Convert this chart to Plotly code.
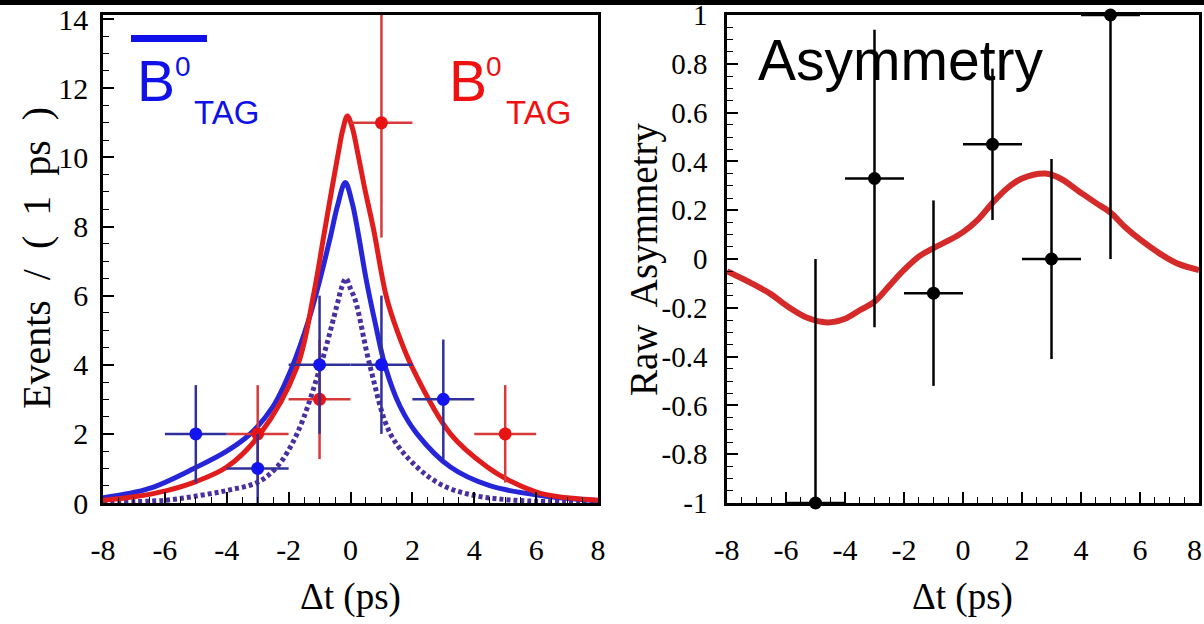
import plotly.graph_objects as go

W, H = 1204, 624

# ---------------- data: left panel (events) ----------------
blue_x = [-5, -3, -1, 1, 3]
blue_y = [2, 1, 4, 4, 3]
blue_yerr = [1.41, 1.0, 2.0, 2.0, 1.73]
blue_xerr = [1, 1, 1, 1, 1]

red_x = [-3, -1, 1, 5]
red_y = [2, 3, 11, 2]
red_yerr = [1.41, 1.73, 3.32, 1.41]
red_xerr = [1, 1, 1, 1]

red_fit_x = [-8, -7, -5.94, -5, -4.0, -2.92, -1.73, -1.2, -0.85, -0.6, -0.4, -0.25, -0.1, 0.06, 0.24, 0.46, 0.75, 1.15, 1.5, 1.99, 3.23, 4.42, 5.2, 6.14, 7, 8]
red_fit_y = [0.08, 0.18, 0.36, 0.62, 1.04, 2.0, 3.93, 6.0, 7.8, 9.1, 10.1, 10.8, 11.2, 10.85, 10.1, 9.1, 7.9, 6.0, 5.0, 3.93, 2.0, 1.04, 0.62, 0.28, 0.15, 0.08]

blue_fit_x = [-8, -6.5, -4.97, -4.0, -3.24, -2.5, -1.89, -1.35, -0.95, -0.65, -0.42, -0.17, 0.05, 0.25, 0.5, 0.8, 1.13, 1.6, 2.15, 3.23, 4.5, 6.14, 8]
blue_fit_y = [0.15, 0.42, 1.04, 1.5, 2.0, 2.8, 3.93, 5.3, 6.6, 7.7, 8.6, 9.27, 8.7, 7.8, 6.5, 5.2, 3.93, 2.8, 2.0, 1.04, 0.5, 0.22, 0.07]

dot_fit_x = [-8, -6, -4.86, -3.9, -3.0, -2.38, -1.73, -0.98, -0.4, -0.3, -0.15, 0.0, 0.16, 0.64, 1.29, 2.15, 3.0, 3.98, 5, 6, 8]
dot_fit_y = [0.02, 0.08, 0.22, 0.38, 0.6, 1.04, 2.0, 3.93, 5.85, 6.2, 6.5, 6.2, 5.85, 3.93, 2.0, 1.04, 0.5, 0.22, 0.1, 0.05, 0.02]

# ---------------- data: right panel (asymmetry) ----------------
asym_x = [-5, -3, -1, 1, 3, 5]
asym_y = [-1, 0.33, -0.14, 0.47, 0, 1]
asym_err_plus = [1.0, 0.61, 0.38, 0.31, 0.41, 0.0]
asym_err_minus = [0.0, 0.61, 0.38, 0.31, 0.41, 1.0]
asym_xerr = [1, 1, 1, 1, 1, 1]

asym_fit_x = [-8, -7, -6.5, -6, -5.3, -4.6, -4, -3.5, -3, -2.5, -2, -1.5, -1, -0.5, 0, 0.5, 1, 1.5, 2, 2.8, 3.3, 3.9, 4.5, 5, 5.5, 6, 6.7, 7.3, 8]
asym_fit_y = [-0.05, -0.11, -0.145, -0.19, -0.24, -0.26, -0.245, -0.21, -0.175, -0.11, -0.045, 0.01, 0.045, 0.075, 0.11, 0.16, 0.23, 0.29, 0.33, 0.35, 0.33, 0.28, 0.23, 0.19, 0.13, 0.08, 0.02, -0.02, -0.045]

x_ticks = [-8, -6, -4, -2, 0, 2, 4, 6, 8]
x_ticktext = ["-8", "-6", "-4", "-2", "0", "2", "4", "6", "8"]
x2_ticktext = ["-8", "-6", "-4", "-2", "0", "2", "4", "6", ""]
ev_ticks = [0, 2, 4, 6, 8, 10, 12, 14]
ev_ticktext = ["0", "2", "4", "6", "8", "10", "12", "14"]
as_ticks = [-1, -0.8, -0.6, -0.4, -0.2, 0, 0.2, 0.4, 0.6, 0.8, 1]
as_ticktext = ["-1", "-0.8", "-0.6", "-0.4", "-0.2", "0", "0.2", "0.4", "0.6", "0.8", "1"]

# ---------------- figure ----------------
fig = go.Figure()

fig.add_trace(go.Scatter(x=dot_fit_x, y=dot_fit_y, mode="lines", line=dict(color="#4a2fa0", width=5, dash="4px,3px", shape="spline"), xaxis="x", yaxis="y"))
fig.add_trace(go.Scatter(x=blue_fit_x, y=blue_fit_y, mode="lines", line=dict(color="#2626d8", width=5, shape="spline"), xaxis="x", yaxis="y"))
fig.add_trace(go.Scatter(x=red_fit_x, y=red_fit_y, mode="lines", line=dict(color="#e01c1c", width=5, shape="spline"), xaxis="x", yaxis="y"))

fig.add_trace(go.Scatter(
    x=red_x, y=red_y, mode="markers", marker=dict(color="#e81414", size=13),
    error_x=dict(type="data", array=red_xerr, color="#d83a3a", thickness=2.5, width=0),
    error_y=dict(type="data", array=red_yerr, color="#d83a3a", thickness=2.5, width=0),
    xaxis="x", yaxis="y"))
fig.add_trace(go.Scatter(
    x=blue_x, y=blue_y, mode="markers", marker=dict(color="#1414f0", size=13),
    error_x=dict(type="data", array=blue_xerr, color="#30309a", thickness=2.5, width=0),
    error_y=dict(type="data", array=blue_yerr, color="#30309a", thickness=2.5, width=0),
    xaxis="x", yaxis="y"))

fig.add_trace(go.Scatter(x=asym_fit_x, y=asym_fit_y, mode="lines", line=dict(color="#d42a2a", width=6, shape="spline"), xaxis="x2", yaxis="y2"))
fig.add_trace(go.Scatter(
    x=asym_x, y=asym_y, mode="markers", marker=dict(color="black", size=13), cliponaxis=False,
    error_x=dict(type="data", array=asym_xerr, color="black", thickness=2.5, width=0),
    error_y=dict(type="data", symmetric=False, array=asym_err_plus, arrayminus=asym_err_minus, color="black", thickness=2.5, width=0),
    xaxis="x2", yaxis="y2"))

tickfont = dict(family="Liberation Serif", size=30, color="black")
common = dict(showline=True, mirror=True, linecolor="black", linewidth=2.5, ticks="inside",
              tickcolor="black", tickwidth=1.5, showgrid=False, zeroline=False, automargin=False,
              ticklabeloverflow="allow")

y_dom = [(H - 503) / H, (H - 15) / H]
fig.update_layout(
    width=W, height=H, template="none", showlegend=False,
    paper_bgcolor="white", plot_bgcolor="white",
    margin=dict(l=0, r=0, t=0, b=0),
    xaxis=dict(domain=[103 / W, 598 / W], range=[-8, 8], tickvals=x_ticks, ticktext=x_ticktext,
               ticklen=11, ticklabelstandoff=18, anchor="y", tickfont=tickfont,
               minor=dict(ticks="inside", dtick=0.5, ticklen=6, tickcolor="black", tickwidth=1.2), **common),
    yaxis=dict(domain=y_dom, range=[0, 14.12], tickvals=ev_ticks, ticktext=ev_ticktext,
               ticklen=11, ticklabelstandoff=6, anchor="x", tickfont=tickfont,
               minor=dict(ticks="inside", dtick=0.5, ticklen=6, tickcolor="black", tickwidth=1.2), **common),
    xaxis2=dict(domain=[727 / W, 1199 / W], range=[-8, 8], tickvals=x_ticks, ticktext=x2_ticktext,
                ticklen=11, ticklabelstandoff=18, anchor="y2", tickfont=tickfont,
                minor=dict(ticks="inside", dtick=0.5, ticklen=6, tickcolor="black", tickwidth=1.2), **common),
    yaxis2=dict(domain=y_dom, range=[-1, 1], tickvals=as_ticks, ticktext=as_ticktext,
                ticklen=11, ticklabelstandoff=11, anchor="x2",
                tickfont=dict(family="Liberation Serif", size=29, color="black"),
                minor=dict(ticks="inside", dtick=0.05, ticklen=6, tickcolor="black", tickwidth=1.2), **common),
)

def px(x):
    return x / W

def py(y):
    return 1 - y / H

ann = []
serif = "Liberation Serif"
sans = "Liberation Sans"
ann.append(dict(text="Δt (ps)", x=px(350), y=py(597), font=dict(family=serif, size=37, color="black")))
ann.append(dict(text="Δt (ps)", x=px(962), y=py(597), font=dict(family=serif, size=37, color="black")))
ann.append(dict(text="Events  /  (  1  ps  )", x=px(36), y=py(258), textangle=-90, font=dict(family=serif, size=40, color="black")))
ann.append(dict(text="Raw  Asymmetry", x=px(644), y=py(259), textangle=-90, font=dict(family=serif, size=39, color="black")))
ann.append(dict(text="Asymmetry", x=px(901), y=py(60), font=dict(family=sans, size=57, color="black")))
# last x tick label of the right panel, kept inside the page
ann.append(dict(text="8", x=1, y=py(549), xanchor="right", font=dict(family=serif, size=30, color="black")))
# legend labels
ann.append(dict(text="B", x=px(156), y=py(81), font=dict(family=sans, size=57, color="#1010e8")))
ann.append(dict(text="0", x=px(182.5), y=py(67), font=dict(family=sans, size=28, color="#1010e8")))
ann.append(dict(text="TAG", x=px(226.5), y=py(112), font=dict(family=sans, size=33, color="#1010e8")))
ann.append(dict(text="B", x=px(468), y=py(81), font=dict(family=sans, size=57, color="#f01010")))
ann.append(dict(text="0", x=px(493.5), y=py(67), font=dict(family=sans, size=28, color="#f01010")))
ann.append(dict(text="TAG", x=px(538.5), y=py(112), font=dict(family=sans, size=33, color="#f01010")))
for a in ann:
    a.setdefault("xanchor", "center")
    a.update(xref="paper", yref="paper", showarrow=False, yanchor="middle")
fig.update_layout(annotations=ann)

fig.update_layout(shapes=[
    dict(type="line", xref="paper", yref="paper", x0=px(131), x1=px(207), y0=py(38.5), y1=py(38.5),
         line=dict(color="#1010e8", width=7)),
    dict(type="rect", xref="paper", yref="paper", x0=0, x1=1, y0=py(5), y1=1,
         fillcolor="black", line=dict(width=0), layer="above"),
])

fig.write_html("out.html")
